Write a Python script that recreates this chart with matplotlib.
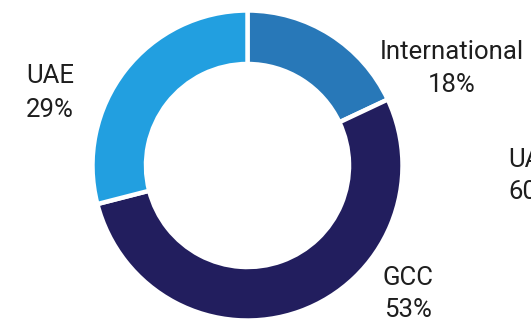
import matplotlib
matplotlib.use("Agg")
import matplotlib.pyplot as plt

categories = ["International", "GCC", "UAE"]
values = [18, 53, 29]
colors = ["#2878b8", "#221e5e", "#229fe0"]

W, H = 531, 324
fig = plt.figure(figsize=(W / 100, H / 100), dpi=100)

cx, cy, R = 247.5, 165.5, 155.0
ax = fig.add_axes([(cx - R) / W, (H - cy - R) / H, 2 * R / W, 2 * R / H])
ax.pie(values, colors=colors, startangle=90, counterclock=False, radius=1.0,
       wedgeprops=dict(width=0.345, edgecolor="white", linewidth=3.2))
ax.set_xlim(-1, 1)
ax.set_ylim(-1, 1)
ax.set_aspect("equal")
ax.axis("off")

font = dict(family=["Roboto", "DejaVu Sans"], fontsize=18.5, fontweight="normal",
            color="#1e1e1e", ha="center", va="center")

labels = [
    (452, 52, 85, categories[0], values[0]),
    (408, 278, 310, categories[1], values[1]),
    (50, 76, 110, categories[2], values[2]),
]
for x, y1, y2, name, v in labels:
    fig.text(x / W, 1 - y1 / H, name, **font)
    fig.text(x / W, 1 - y2 / H, f"{v}%", **font)

# partially visible label of neighbouring chart (cut off in the reference too)
fig.text(532 / W, 1 - 160 / H, "UAE", **font)
fig.text(532 / W, 1 - 192 / H, "60%", **font)

fig.savefig("out.png", dpi=100)
